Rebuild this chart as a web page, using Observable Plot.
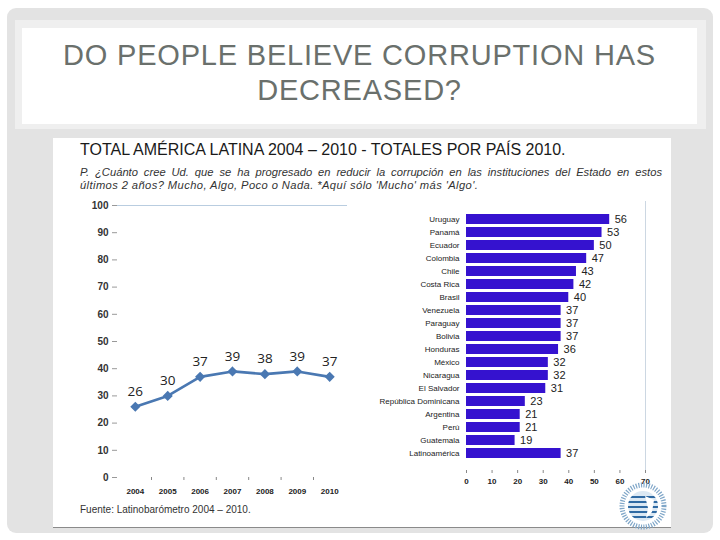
<!DOCTYPE html>
<html><head><meta charset="utf-8">
<script src="https://cdn.jsdelivr.net/npm/d3@7"></script>
<script src="https://cdn.jsdelivr.net/npm/@observablehq/plot@0.6"></script>
<style>
body{margin:0;width:720px;height:540px;background:#fff;position:relative;overflow:hidden;font-family:"Liberation Sans",Arial,sans-serif;}
.abs{position:absolute;}
#frame{left:7px;top:8px;width:706px;height:525px;background:#e3e3e3;border-radius:9px;}
#tpanel{left:15px;top:20px;width:691px;height:109px;background:#efefef;}
#tbox{left:22px;top:28px;width:675px;height:96px;background:#fff;}
#title{left:22px;top:38px;width:675px;text-align:center;color:#6a706c;font-size:29px;line-height:35px;letter-spacing:0.8px;}
#img{left:53px;top:138px;width:618px;height:389px;background:#fff;border-bottom:1px solid #8a8a8a;}
#h1{left:80px;top:141px;font-size:16px;color:#1a1a1a;white-space:nowrap;}
.q{left:80px;width:582px;font-size:11.2px;line-height:13px;font-style:italic;color:#333;white-space:nowrap;}
#q1{top:166px;text-align:justify;text-align-last:justify;white-space:normal;}
#q2{top:179px;letter-spacing:0.4px;}
#src{left:80px;top:504px;font-size:10px;color:#333;white-space:nowrap;}
#left{left:60px;top:195px;}
#right{left:370px;top:195px;}
#logo{left:618px;top:482px;}
</style></head>
<body>
<div id="frame" class="abs"></div>
<div id="tpanel" class="abs"></div>
<div id="tbox" class="abs"></div>
<div id="title" class="abs">DO PEOPLE BELIEVE CORRUPTION HAS<br>DECREASED?</div>
<div id="img" class="abs"></div>
<div id="h1" class="abs">TOTAL AMÉRICA LATINA 2004 – 2010 - TOTALES POR PAÍS 2010.</div>
<div id="q1" class="abs q">P. ¿Cuánto cree Ud. que se ha progresado en reducir la corrupción en las instituciones del Estado en estos</div>
<div id="q2" class="abs q">últimos 2 años? Mucho, Algo, Poco o Nada. *Aquí sólo 'Mucho' más 'Algo'.</div>
<div id="left" class="abs"></div>
<div id="right" class="abs"></div>
<div id="src" class="abs">Fuente: Latinobarómetro 2004 – 2010.</div>
<svg id="logo" class="abs" width="50" height="48" viewBox="0 0 50 48">
  <defs><clipPath id="lc"><circle cx="25" cy="24" r="15"/></clipPath></defs>
  <circle cx="25" cy="24" r="21" fill="none" stroke="#7fa6c8" stroke-width="5" stroke-dasharray="1.2 1.4"/>
  <circle cx="25" cy="24" r="15" fill="#dbe8f3"/>
  <g clip-path="url(#lc)" stroke="#2f6aa3" stroke-width="2.2">
    <line x1="5" y1="15" x2="45" y2="15"/><line x1="5" y1="20" x2="45" y2="20"/>
    <line x1="5" y1="25" x2="45" y2="25"/><line x1="5" y1="30" x2="45" y2="30"/>
    <line x1="5" y1="35" x2="45" y2="35"/>
  </g>
  <path d="M27 14 L36 18 L34 30 L28 36 L30 26 Z" fill="#fff"/>
</svg>
<script>
// Line chart data (Total América Latina 2004–2010)
const years = [2004, 2005, 2006, 2007, 2008, 2009, 2010];
const totals = [26, 30, 37, 39, 38, 39, 37];
const lineYTicks = [0, 10, 20, 30, 40, 50, 60, 70, 80, 90, 100];

// Bar chart data (Totales por país 2010)
const countries = ["Uruguay", "Panamá", "Ecuador", "Colombia", "Chile", "Costa Rica", "Brasil", "Venezuela", "Paraguay", "Bolivia", "Honduras", "México", "Nicaragua", "El Salvador", "República Dominicana", "Argentina", "Perú", "Guatemala", "Latinoamérica"];
const countryValues = [56, 53, 50, 47, 43, 42, 40, 37, 37, 37, 36, 32, 32, 31, 23, 21, 21, 19, 37];
const barXTicks = [0, 10, 20, 30, 40, 50, 60, 70];

const lineData = years.map((y, i) => ({year: y, value: totals[i]}));
const midTicks = years.slice(0, -1).map(y => y + 0.5);
const blue = "#4a78b2";

const left = Plot.plot({
  width: 300, height: 310,
  marginLeft: 57, marginRight: 13, marginTop: 10, marginBottom: 28,
  style: {fontFamily: "'Liberation Sans', Arial, sans-serif", background: "transparent", overflow: "visible"},
  x: {type: "linear", domain: [2003.45, 2010.55]},
  y: {domain: [0, 100]},
  marks: [
    Plot.ruleY([100], {stroke: "#b9cde0", strokeWidth: 1.2}),
    Plot.axisY({ticks: lineYTicks, tickSize: 5, tickPadding: 4, fontSize: 10, fontWeight: "bold", fill: "#333", stroke: "#999", label: null}),
    Plot.axisX({ticks: years, tickSize: 0, tickPadding: 11, fontSize: 8, fontWeight: "bold", fill: "#222", tickFormat: d => String(d), label: null}),
    Plot.axisX({ticks: midTicks, tickSize: 3, tickFormat: () => "", stroke: "#888", label: null}),
    Plot.line(lineData, {x: "year", y: "value", stroke: blue, strokeWidth: 2.6}),
    Plot.dot(lineData, {x: "year", y: "value", symbol: "diamond2", r: 3.6, fill: blue, stroke: blue}),
    Plot.text(lineData, {x: "year", y: "value", text: "value", dy: -15, fontSize: 13.5, fill: "#222", fontFamily: "'Open Sans', sans-serif"})
  ]
});
document.getElementById("left").appendChild(left);

const barData = countries.map((c, i) => ({country: c, value: countryValues[i]}));
const right = Plot.plot({
  width: 300, height: 310,
  marginLeft: 96, marginRight: 25, marginTop: 6, marginBottom: 35,
  style: {fontFamily: "'Liberation Sans', Arial, sans-serif", background: "transparent", overflow: "visible"},
  x: {domain: [0, 70]},
  y: {domain: countries, padding: 0.26},
  marks: [
    Plot.ruleX([70], {stroke: "#ccd7e2"}),
    Plot.barX(barData, {x: "value", y: "country", fill: "#3512cf"}),
    Plot.text(barData, {x: "value", y: "country", text: "value", dx: 5, textAnchor: "start", fontSize: 11, fill: "#222"}),
    Plot.axisY({tickSize: 0, tickPadding: 7, fontSize: 8, fill: "#222", label: null}),
    Plot.axisX({ticks: barXTicks, tickSize: 3, tickPadding: 5, fontSize: 8, fontWeight: "bold", fill: "#222", stroke: "#888", label: null})
  ]
});
document.getElementById("right").appendChild(right);
</script>
</body></html>
